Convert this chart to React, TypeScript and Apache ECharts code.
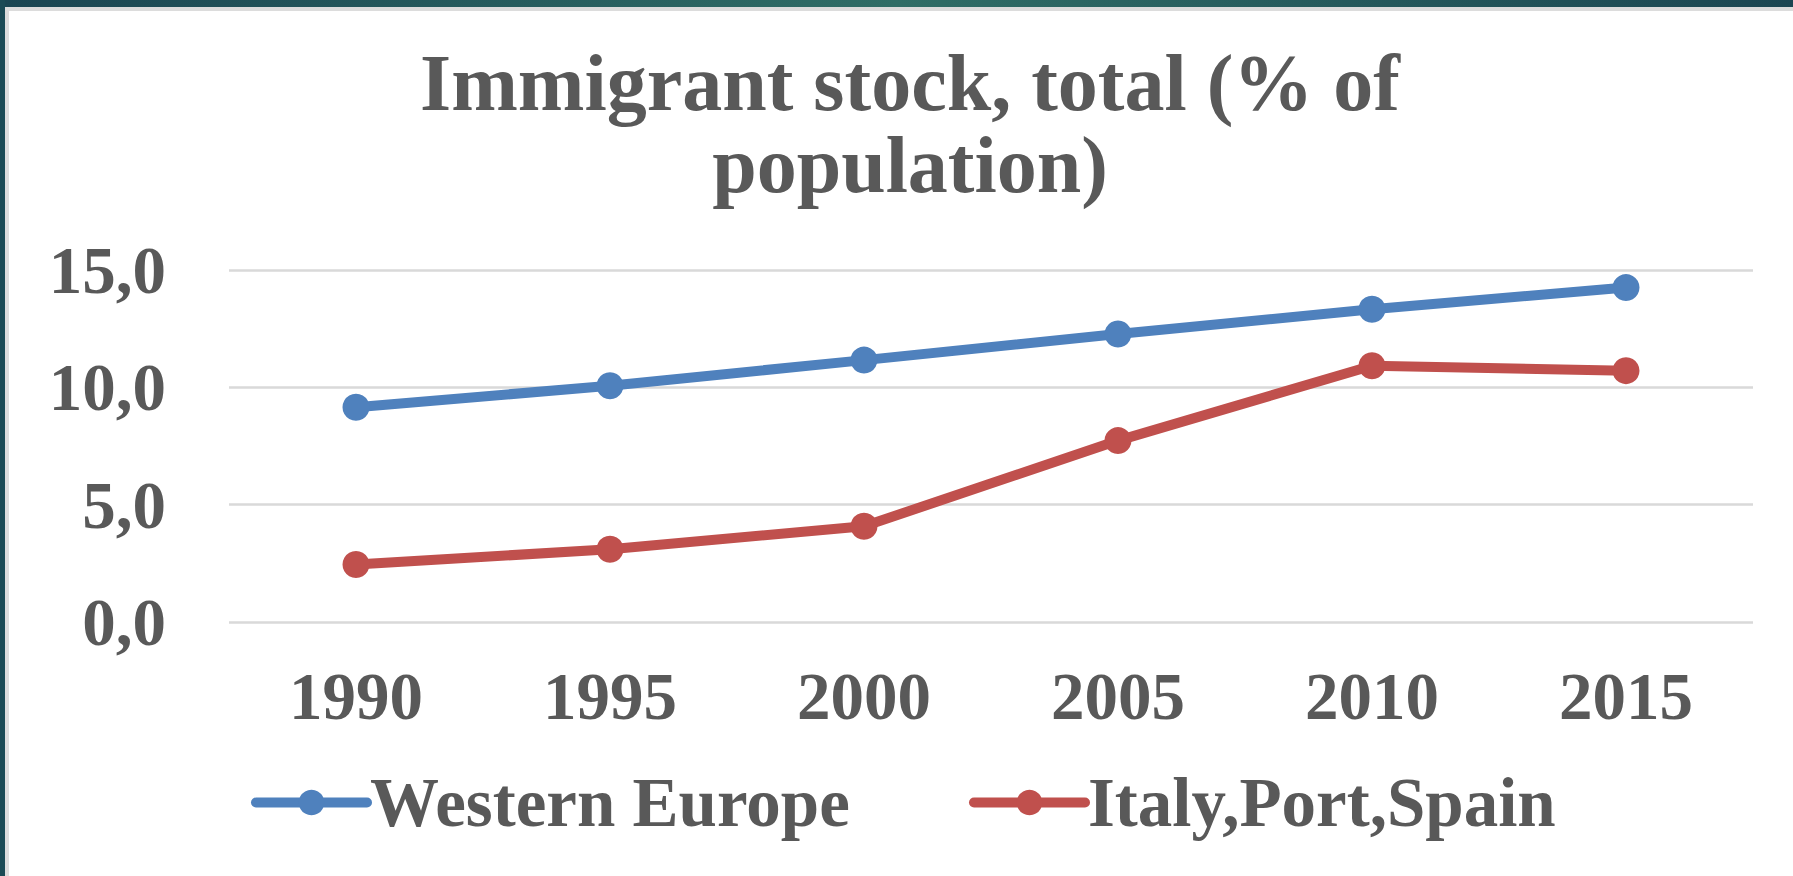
import React, { useEffect, useRef } from "react";
import * as echarts from "echarts";

const years = ["1990", "1995", "2000", "2005", "2010", "2015"];
const westernEurope = [9.15, 10.07, 11.16, 12.27, 13.33, 14.25];
const italyPortSpain = [2.45, 3.1, 4.08, 7.73, 10.92, 10.71];
const yTicks = [0, 5, 10, 15];
const titleText = "Immigrant stock, total (% of\npopulation)";
const seriesNames = ["Western Europe", "Italy,Port,Spain"];

const FONT = "'Liberation Serif', 'Times New Roman', serif";
const TEXT = "#595959";
const BLUE = "#4F81BD";
const RED = "#C0504D";

export default function App() {
  const ref = useRef<HTMLDivElement>(null);

  useEffect(() => {
    if (!ref.current) return;
    const chart = echarts.init(ref.current, null, { renderer: "svg" });
    const mkLegend = (name: string, left: number) => ({
      data: [name],
      left,
      top: 768,
      padding: 0,
      itemWidth: 111,
      itemHeight: 32,
      itemGap: 6,
      selectedMode: false,
      lineStyle: { width: 10, cap: "round" },
      textStyle: {
        fontFamily: FONT,
        fontWeight: "bold",
        fontSize: 69,
        color: TEXT,
        padding: [0, 0, 0, -2],
      },
    });
    chart.setOption({
      animation: false,
      backgroundColor: "#ffffff",
      graphic: [
        {
          type: "rect",
          shape: { x: 0, y: 0, width: 1793, height: 7 },
          style: {
            fill: new echarts.graphic.LinearGradient(0, 0, 1, 0, [
              { offset: 0, color: "#1a4552" },
              { offset: 0.5, color: "#2f6d66" },
              { offset: 1, color: "#1b4652" },
            ]),
          },
          silent: true,
        },
        {
          type: "rect",
          shape: { x: 0, y: 0, width: 5, height: 876 },
          style: { fill: "#1b4a55" },
          silent: true,
        },
        {
          type: "rect",
          shape: { x: 5, y: 7, width: 1788, height: 4 },
          style: { fill: "#dcdcdc" },
          silent: true,
        },
        {
          type: "rect",
          shape: { x: 5, y: 7, width: 4, height: 869 },
          style: { fill: "#dcdcdc" },
          silent: true,
        },
        {
          type: "text",
          x: 910,
          y: 42,
          style: {
            text: titleText,
            font: `bold 80px ${FONT}`,
            fill: TEXT,
            textAlign: "center",
            textVerticalAlign: "top",
            lineHeight: 82,
          },
          silent: true,
        },
      ],
      legend: [mkLegend(seriesNames[0], 251), mkLegend(seriesNames[1], 969)],
      grid: { left: 229, right: 40, top: 270, bottom: 254 },
      xAxis: {
        type: "category",
        data: years,
        boundaryGap: true,
        axisLine: { show: false },
        axisTick: { show: false },
        axisLabel: {
          margin: 40,
          fontFamily: FONT,
          fontWeight: "bold",
          fontSize: 67,
          color: TEXT,
        },
      },
      yAxis: {
        type: "value",
        min: yTicks[0],
        max: yTicks[yTicks.length - 1],
        interval: 5,
        axisLine: { show: false },
        axisTick: { show: false },
        splitLine: { lineStyle: { color: "#D9D9D9", width: 2.5 } },
        axisLabel: {
          margin: 63,
          fontFamily: FONT,
          fontWeight: "bold",
          fontSize: 67,
          color: TEXT,
          formatter: (v: number) => v.toFixed(1).replace(".", ","),
        },
      },
      series: [
        {
          name: seriesNames[0],
          type: "line",
          data: westernEurope,
          symbol: "circle",
          symbolSize: 27,
          lineStyle: { color: BLUE, width: 10, cap: "round" },
          itemStyle: { color: BLUE },
        },
        {
          name: seriesNames[1],
          type: "line",
          data: italyPortSpain,
          symbol: "circle",
          symbolSize: 27,
          lineStyle: { color: RED, width: 10, cap: "round" },
          itemStyle: { color: RED },
        },
      ],
    });
    return () => chart.dispose();
  }, []);

  return (
    <div
      ref={ref}
      style={{ position: "fixed", left: 0, top: 0, width: 1793, height: 876 }}
    />
  );
}
